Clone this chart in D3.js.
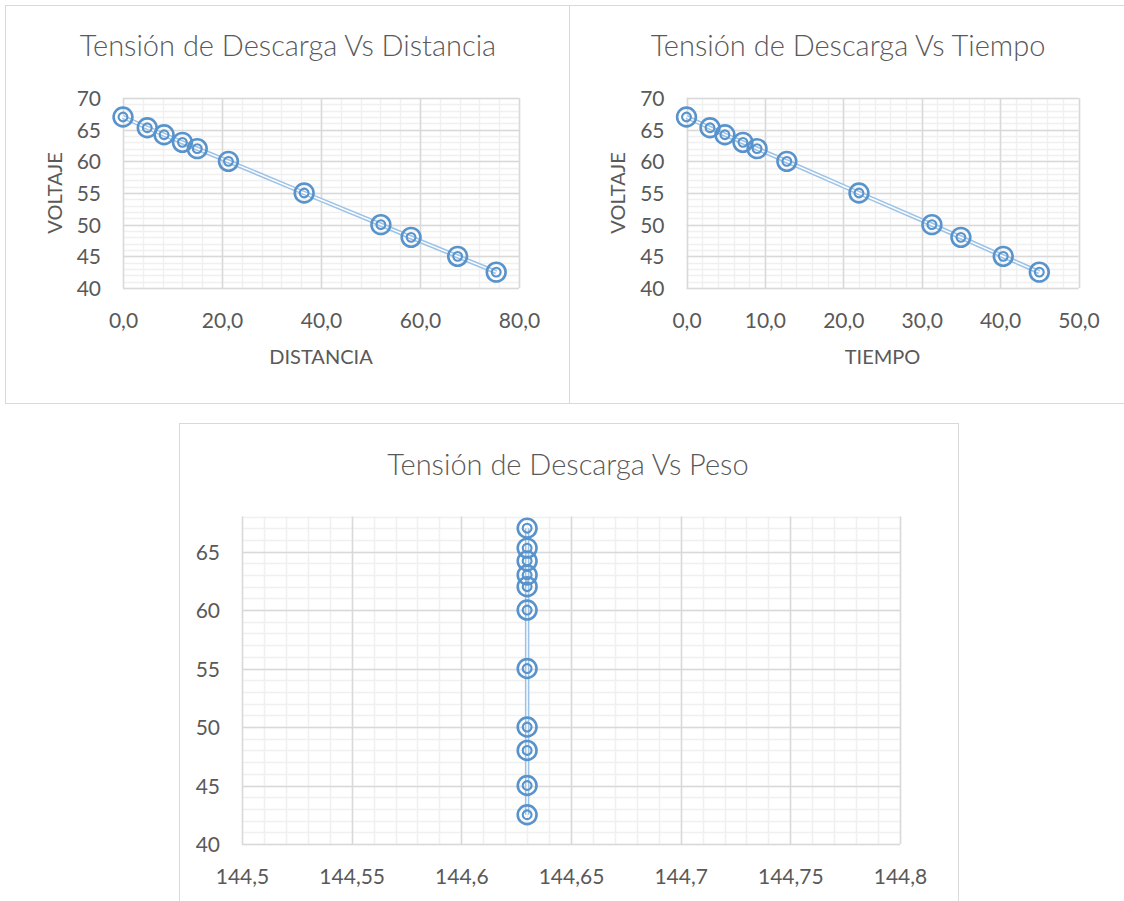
<!DOCTYPE html>
<html>
<head>
<meta charset="utf-8">
<script src="https://cdn.jsdelivr.net/npm/d3@7"></script>
<style>
  html, body { margin: 0; padding: 0; background: #ffffff; }
  svg { display: block; }
  text { font-family: Lato, "Open Sans", sans-serif; fill: #595959; }
</style>
</head>
<body>
<svg id="chart" width="1124" height="901"></svg>
<script>
// Measured discharge voltage against distance, time and weight
const voltaje   = [67, 65.3, 64.2, 63, 62, 60, 55, 50, 48, 45, 42.5];
const distancia = [0, 4.9, 8.3, 12.0, 15.0, 21.3, 36.6, 52.1, 58.2, 67.6, 75.4];
const tiempo    = [0, 3.0, 4.9, 7.2, 9.0, 12.8, 22.0, 31.3, 35.0, 40.4, 45.0];
const peso      = [144.63, 144.63, 144.63, 144.63, 144.63, 144.63, 144.63, 144.63, 144.63, 144.63, 144.63];

const distanciaTicks = [0, 20, 40, 60, 80];
const tiempoTicks    = [0, 10, 20, 30, 40, 50];
const pesoTicks      = [144.5, 144.55, 144.6, 144.65, 144.7, 144.75, 144.8];
const voltajeTicks   = [40, 45, 50, 55, 60, 65, 70];
const voltajeTicksPeso = [40, 45, 50, 55, 60, 65];

const titulos = ["Tensión de Descarga Vs Distancia", "Tensión de Descarga Vs Tiempo", "Tensión de Descarga Vs Peso"];

const es = d3.formatLocale({ decimal: ",", thousands: ".", grouping: [3], currency: ["", " €"] });
const fmt1 = es.format(".1f");
const fmtTrim = es.format(".2~f");

const svg = d3.select("#chart");

const GRID_MAJOR = "#d9d9d9";
const GRID_MINOR = "#f0f0f0";
const LINE_COLOR = "#9dc3e6";
const MARK_COLOR = "#5893cc";

function panel(box) {
  svg.append("rect")
    .attr("x", box.x + 0.5).attr("y", box.y + 0.5)
    .attr("width", box.w).attr("height", box.h)
    .attr("fill", "#fff").attr("stroke", GRID_MAJOR).attr("stroke-width", 1);
}

function drawChart(cfg) {
  panel(cfg.panel);
  const g = svg.append("g");

  const x = d3.scaleLinear().domain(cfg.xDomain).range([cfg.plot.left, cfg.plot.right]);
  const y = d3.scaleLinear().domain(cfg.yDomain).range([cfg.plot.bottom, cfg.plot.top]);

  // minor grid
  const xMinor = d3.range(cfg.xDomain[0], cfg.xDomain[1] + cfg.xMinor / 2, cfg.xMinor);
  const yMinor = d3.range(cfg.yDomain[0], cfg.yDomain[1] + 0.5, 1);
  g.append("g").selectAll("line").data(xMinor).join("line")
    .attr("x1", d => Math.round(x(d)) + 0.5).attr("x2", d => Math.round(x(d)) + 0.5)
    .attr("y1", cfg.plot.top).attr("y2", cfg.plot.bottom)
    .attr("stroke", GRID_MINOR).attr("stroke-width", 1.5);
  g.append("g").selectAll("line").data(yMinor).join("line")
    .attr("y1", d => Math.round(y(d)) + 0.5).attr("y2", d => Math.round(y(d)) + 0.5)
    .attr("x1", cfg.plot.left).attr("x2", cfg.plot.right)
    .attr("stroke", GRID_MINOR).attr("stroke-width", 1.5);

  // major grid
  g.append("g").selectAll("line").data(cfg.xTicks).join("line")
    .attr("x1", d => Math.round(x(d)) + 0.5).attr("x2", d => Math.round(x(d)) + 0.5)
    .attr("y1", cfg.plot.top).attr("y2", cfg.plot.bottom)
    .attr("stroke", GRID_MAJOR).attr("stroke-width", 1.5);
  g.append("g").selectAll("line").data(cfg.yTicks).join("line")
    .attr("y1", d => Math.round(y(d)) + 0.5).attr("y2", d => Math.round(y(d)) + 0.5)
    .attr("x1", cfg.plot.left).attr("x2", cfg.plot.right)
    .attr("stroke", GRID_MAJOR).attr("stroke-width", 1.5);

  // axis labels via d3 axes (tick lines and domain hidden)
  const xAxis = d3.axisBottom(x).tickValues(cfg.xTicks).tickFormat(cfg.xFormat).tickSize(0).tickPadding(0);
  const xa = g.append("g").attr("transform", `translate(0,${cfg.plot.bottom + 40})`).call(xAxis);
  xa.select(".domain").remove();
  xa.selectAll("text").attr("font-size", 21).attr("dy", 0).attr("y", 0)
    .style("font-family", "Lato, sans-serif").attr("fill", "#595959");

  const yAxis = d3.axisLeft(y).tickValues(cfg.yTicks).tickFormat(d3.format("d")).tickSize(0).tickPadding(0);
  const ya = g.append("g").attr("transform", `translate(${cfg.plot.left - 22},0)`).call(yAxis);
  ya.select(".domain").remove();
  ya.selectAll("text").attr("font-size", 21).attr("dy", "0.36em").attr("x", 0)
    .style("font-family", "Lato, sans-serif").attr("fill", "#595959");

  // title
  g.append("text")
    .attr("x", cfg.titleX).attr("y", cfg.titleY)
    .attr("text-anchor", "middle")
    .attr("font-size", 29).attr("font-weight", 300)
    .text(cfg.title);

  if (cfg.xTitle) {
    g.append("text")
      .attr("x", (cfg.plot.left + cfg.plot.right) / 2).attr("y", cfg.plot.bottom + 76)
      .attr("text-anchor", "middle").attr("font-size", 20)
      .text(cfg.xTitle);
  }
  if (cfg.yTitle) {
    const cy = (cfg.plot.top + cfg.plot.bottom) / 2;
    g.append("text")
      .attr("transform", `translate(${cfg.yTitleX},${cy}) rotate(-90)`)
      .attr("text-anchor", "middle").attr("font-size", 20)
      .text(cfg.yTitle);
  }

  const pts = cfg.xs.map((d, i) => [d, voltaje[i]]);
  const line = d3.line().x(d => x(d[0])).y(d => y(d[1]));

  // double-stroke connecting line
  g.append("path").attr("d", line(pts))
    .attr("fill", "none").attr("stroke", LINE_COLOR).attr("stroke-width", 4.5);
  g.append("path").attr("d", line(pts))
    .attr("fill", "none").attr("stroke", "#ffffff").attr("stroke-width", 1.4);

  // double-ring markers
  const m = g.append("g").selectAll("g").data(pts).join("g")
    .attr("transform", d => `translate(${x(d[0])},${y(d[1])})`);
  m.append("circle").attr("r", 9.4).attr("fill", "none")
    .attr("stroke", MARK_COLOR).attr("stroke-width", 2.6);
  m.append("circle").attr("r", 4.4).attr("fill", "none")
    .attr("stroke", MARK_COLOR).attr("stroke-width", 2.1);
}

drawChart({
  panel: { x: 5, y: 5, w: 564, h: 398 },
  plot: { left: 123, right: 519, top: 98, bottom: 288 },
  xDomain: [0, 80], xTicks: distanciaTicks, xMinor: 4, xFormat: fmt1,
  yDomain: [40, 70], yTicks: voltajeTicks,
  title: titulos[0], titleX: 288, titleY: 56,
  xTitle: "DISTANCIA", yTitle: "VOLTAJE", yTitleX: 62,
  xs: distancia
});

drawChart({
  panel: { x: 569, y: 5, w: 560, h: 398 },
  plot: { left: 686.5, right: 1078.5, top: 98, bottom: 288 },
  xDomain: [0, 50], xTicks: tiempoTicks, xMinor: 2, xFormat: fmt1,
  yDomain: [40, 70], yTicks: voltajeTicks,
  title: titulos[1], titleX: 848, titleY: 56,
  xTitle: "TIEMPO", yTitle: "VOLTAJE", yTitleX: 625,
  xs: tiempo
});

drawChart({
  panel: { x: 179, y: 423, w: 779, h: 500 },
  plot: { left: 242, right: 900, top: 516.5, bottom: 844 },
  xDomain: [144.5, 144.8], xTicks: pesoTicks, xMinor: 0.01, xFormat: fmtTrim,
  yDomain: [40, 68], yTicks: voltajeTicksPeso,
  title: titulos[2], titleX: 568, titleY: 475,
  xs: peso
});
</script>
</body>
</html>
